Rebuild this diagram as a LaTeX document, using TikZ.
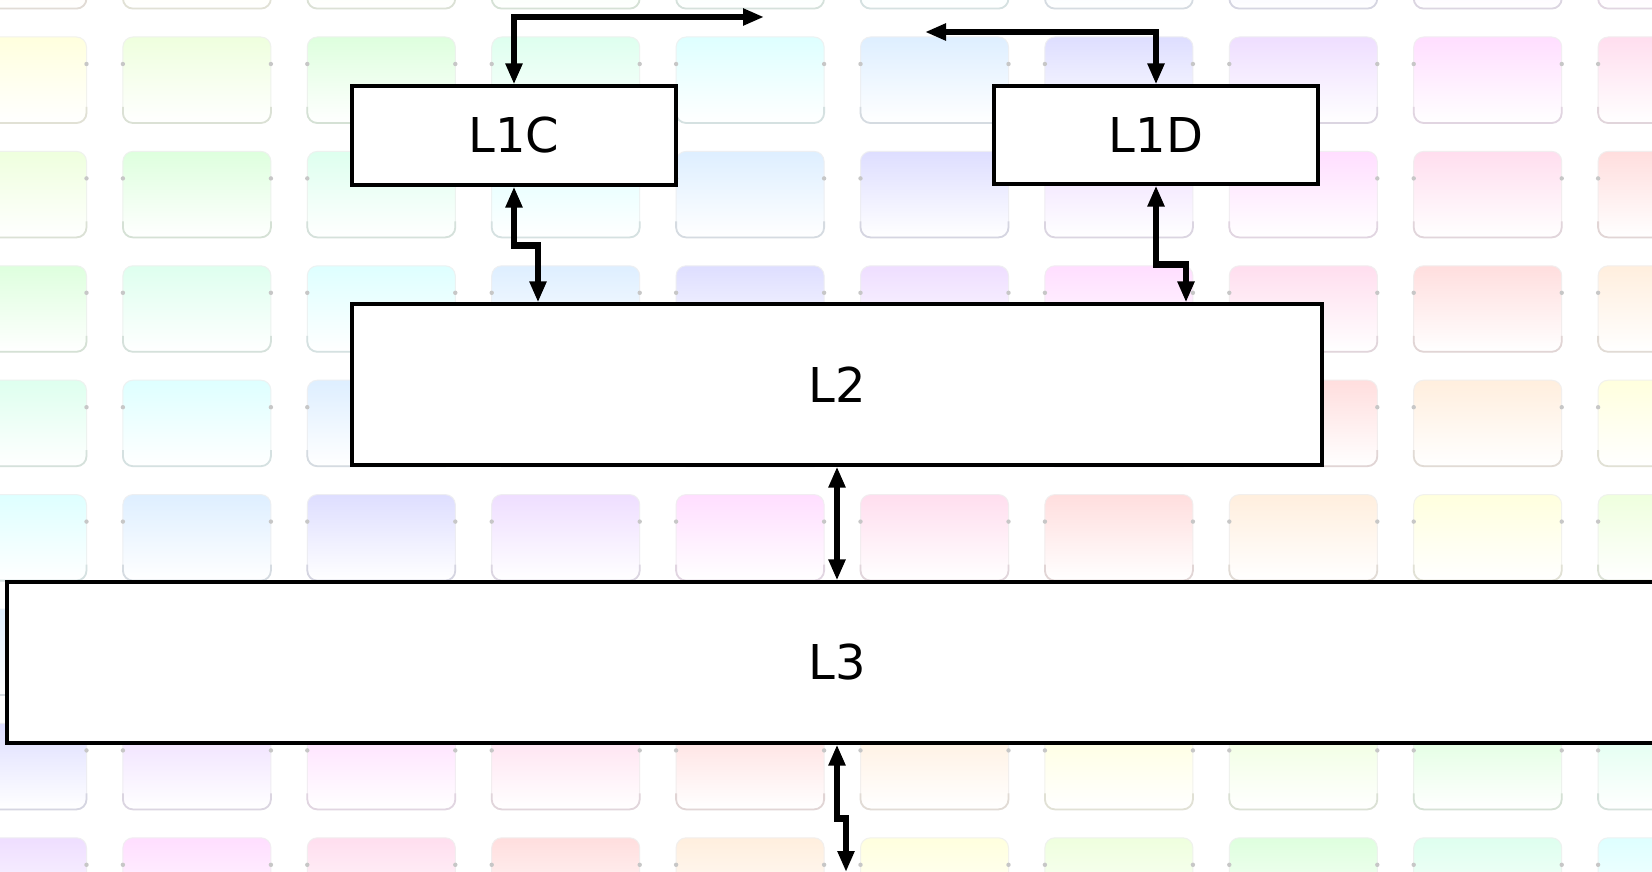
\documentclass[tikz,border=0pt]{standalone}
\usepackage{fontspec}
\setmainfont{DejaVu Sans}
\usetikzlibrary{arrows.meta}
\begin{document}
\begin{tikzpicture}[x=1pt,y=-1pt,
  blk/.style={draw=black, fill=white, line width=3.2pt, inner sep=0pt,
    font=\fontsize{48}{56}\selectfont},
  conn/.style={line width=6.5pt,
    {Triangle[length=21pt,width=16pt]}-{Triangle[length=21pt,width=16pt]}},
]
\useasboundingbox (0,0) rectangle (1652,872);
\clip (0,0) rectangle (1652,872);
\fill[white] (0,0) rectangle (1652,872);

% pale rainbow tile wallpaper; hue advances along the diagonals
\foreach \r in {0,...,8}{
  \foreach \c in {0,...,9}{
    \pgfmathsetmacro{\hue}{mod(30+(\r+\c)*30,360)}
    \definecolor{tilehue}{Hsb}{\hue,1,1}
    \colorlet{tiletop}[rgb]{tilehue!13!white}
    \colorlet{tileedge}[rgb]{tilehue!25!black!7}
    \colorlet{tilefoot}[rgb]{tilehue!30!black!17}
    \pgfmathsetmacro{\tx}{-61.5+184.4*\c}
    \pgfmathsetmacro{\ty}{-77.4+114.4*\r}
    \shade[top color=tiletop, bottom color=white,
      draw=tileedge, line width=1pt, rounded corners=10pt]
      (\tx,\ty) rectangle ++(148,86);
    \draw[tilefoot, line width=1.8pt, rounded corners=10pt]
      (\tx,\ty+70) |- (\tx+148,\ty+86) -- (\tx+148,\ty+70);
    \fill[black!22] (\tx,\ty+27) circle (2.2);
    \fill[black!22] (\tx+148,\ty+27) circle (2.2);
  }
}

% cache hierarchy blocks
\node[blk, minimum width=324pt, minimum height=99pt] (L1C) at (514,135.5) {L1C};
\node[blk, minimum width=324pt, minimum height=98pt] (L1D) at (1156,135) {L1D};
\node[blk, minimum width=970pt, minimum height=161pt] (L2) at (837,384.5) {L2};
\node[blk, minimum width=1660pt, minimum height=161pt] (L3) at (837,662.5) {L3};

% free ends and bends of the links
\coordinate (outC) at (764,17);
\coordinate (outD) at (925,32);
\coordinate (kC) at (538,245.5);
\coordinate (kD) at (1186,264.5);
\coordinate (kE) at (846,818.5);
\coordinate (outE) at (846,872);

% links
\draw[conn] (L1C.north) |- (outC);
\draw[conn] (outD) -| (L1D.north);
\draw[conn] (L1C.south) |- (kC) -- (kC |- L2.north);
\draw[conn] (L1D.south) |- (kD) -- (kD |- L2.north);
\draw[conn] (L2.south) -- (L3.north);
\draw[conn] (L3.south) |- (kE) -- (outE);
\end{tikzpicture}
\end{document}
